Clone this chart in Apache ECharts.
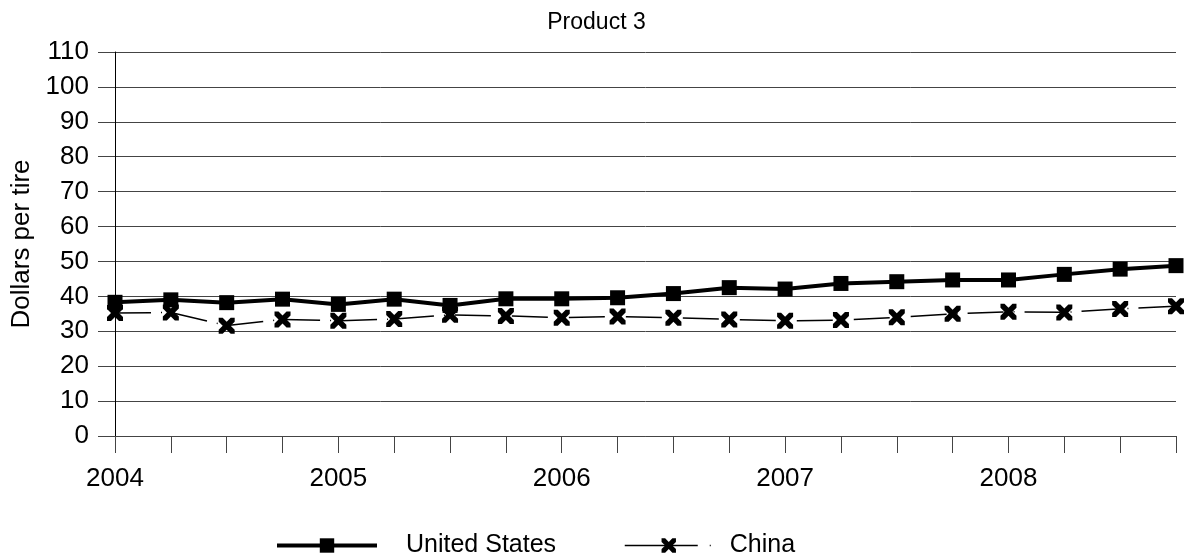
<!DOCTYPE html>
<html>
<head>
<meta charset="utf-8">
<script src="https://cdn.jsdelivr.net/npm/echarts@6/dist/echarts.min.js"></script>
<style>
html,body{margin:0;padding:0;background:#fff;}
#chart{width:1193px;height:560px;}
</style>
</head>
<body>
<div id="chart"></div>
<script>
var quarters = ['2004 Q1','2004 Q2','2004 Q3','2004 Q4','2005 Q1','2005 Q2','2005 Q3','2005 Q4','2006 Q1','2006 Q2','2006 Q3','2006 Q4','2007 Q1','2007 Q2','2007 Q3','2007 Q4','2008 Q1','2008 Q2','2008 Q3','2008 Q4'];
var unitedStates = [38.3, 39.0, 38.2, 39.2, 37.7, 39.2, 37.4, 39.3, 39.3, 39.6, 40.8, 42.5, 42.1, 43.7, 44.2, 44.7, 44.7, 46.3, 47.8, 48.8];
var china = [35.2, 35.4, 31.6, 33.4, 33.0, 33.5, 34.7, 34.4, 33.9, 34.2, 33.9, 33.4, 33.0, 33.2, 34.0, 35.0, 35.6, 35.4, 36.4, 37.2];
var titleText = 'Product 3';
var yAxisName = 'Dollars per tire';
var seriesNames = ['United States', 'China'];

var FONT = '"Liberation Sans", Arial, sans-serif';
var xPath = 'path://M0,0 L4,0 L8,4 L12,0 L16,0 L16,4 L12,8 L16,12 L16,16 L12,16 L8,12 L4,16 L0,16 L0,12 L4,8 L0,4 Z';

var chart = echarts.init(document.getElementById('chart'), null, {renderer: 'canvas'});
chart.setOption({
  backgroundColor: '#ffffff',
  animation: false,
  title: {
    text: titleText,
    left: 'center',
    top: 6,
    textStyle: {fontFamily: FONT, fontSize: 23, fontWeight: 'normal', color: '#000'}
  },
  grid: {left: 115, right: 17, top: 52, bottom: 124, containLabel: false},
  legend: [
    {
      data: [seriesNames[0]],
      left: 270, top: 528,
      itemWidth: 100, itemHeight: 18,
      lineStyle: {width: 4, color: '#000'},
      textStyle: {fontFamily: FONT, fontSize: 25, color: '#000', padding: [0, 0, 0, 24]}
    },
    {
      data: [seriesNames[1]],
      left: 619, top: 528,
      itemWidth: 88, itemHeight: 18,
      lineStyle: {type: [73, 12, 1, 30], width: 1.5, color: '#000'},
      textStyle: {fontFamily: FONT, fontSize: 25, color: '#000', padding: [0, 0, 0, 12]}
    }
  ],
  xAxis: {
    type: 'category',
    data: quarters,
    boundaryGap: false,
    axisLine: {show: true, lineStyle: {color: '#444', width: 1}},
    axisTick: {show: true, interval: 0, length: 17, lineStyle: {color: '#444'}},
    axisLabel: {
      interval: 3,
      margin: 30,
      fontFamily: FONT, fontSize: 26, color: '#000',
      formatter: function (v) { return v.split(' ')[0]; }
    },
    splitLine: {show: false}
  },
  yAxis: {
    type: 'value',
    min: 0, max: 110, interval: 10,
    name: yAxisName,
    nameLocation: 'middle',
    nameGap: 80,
    nameTextStyle: {fontFamily: FONT, fontSize: 26, color: '#000'},
    axisLine: {show: true, lineStyle: {color: '#000', width: 1}},
    axisTick: {show: true, length: 17, lineStyle: {color: '#444'}},
    axisLabel: {margin: 26, fontFamily: FONT, fontSize: 26, color: '#000'},
    splitLine: {show: true, lineStyle: {color: '#444', width: 1}}
  },
  series: [
    {
      name: seriesNames[0],
      type: 'line',
      data: unitedStates,
      symbol: 'rect',
      symbolSize: 15,
      itemStyle: {color: '#000'},
      lineStyle: {color: '#000', width: 4},
      z: 3
    },
    {
      name: seriesNames[1],
      type: 'line',
      data: china,
      symbol: xPath,
      symbolSize: 16,
      itemStyle: {color: '#000'},
      lineStyle: {color: '#000', width: 1.5, type: [36, 10, 1, 10]},
      z: 2
    }
  ]
});
</script>
</body>
</html>
